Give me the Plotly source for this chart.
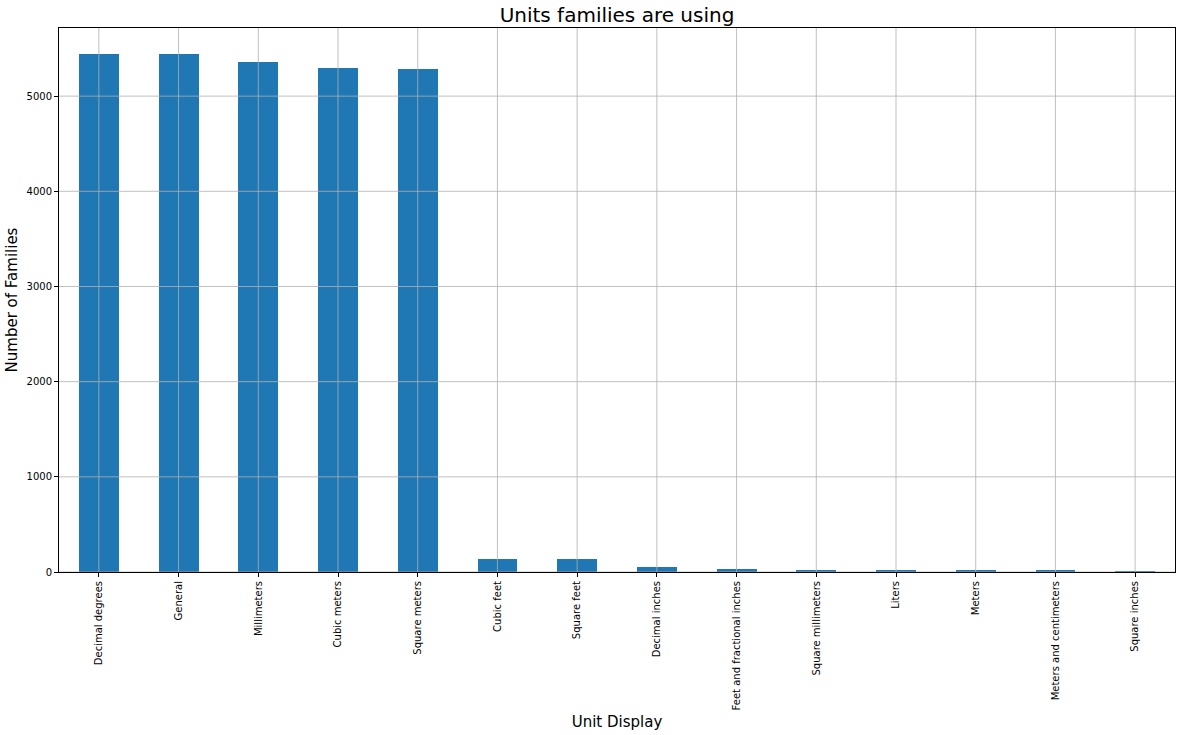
import plotly.graph_objects as go

units = ["Decimal degrees", "General", "Millimeters", "Cubic meters", "Square meters",
         "Cubic feet", "Square feet", "Decimal inches", "Feet and fractional inches",
         "Square millimeters", "Liters", "Meters", "Meters and centimeters", "Square inches"]
families = [5444, 5444, 5360, 5297, 5287, 140, 140, 56, 35, 24, 14, 12, 12, 2]
y_ticks = [0, 1000, 2000, 3000, 4000, 5000]

font = "DejaVu Sans"
grid_col = "#b0b0b0"

W, H = 1185, 735

fig = go.Figure()
fig.add_trace(go.Bar(x=list(range(len(units))), y=families, width=0.5,
                     marker=dict(color="#1f77b4", line=dict(width=0))))

# matplotlib draws grid over the bars, so use shapes on top
shapes = []
for i in range(len(units)):
    shapes.append(dict(type="line", xref="x", yref="paper", x0=i, x1=i, y0=0, y1=1,
                       line=dict(color=grid_col, width=0.8), layer="above"))
for t in y_ticks:
    shapes.append(dict(type="line", xref="paper", yref="y", x0=0, x1=1, y0=t, y1=t,
                       line=dict(color=grid_col, width=0.8), layer="above"))

fig.update_layout(
    width=W, height=H,
    margin=dict(l=59, r=10, t=28, b=163, autoexpand=False),
    paper_bgcolor="white", plot_bgcolor="white",
    font=dict(family=font, color="black", size=10),
    title=dict(text="Units families are using", x=0.5, xref="paper",
               y=1 - 15 / H, yref="container", yanchor="middle",
               font=dict(size=20, family=font)),
    showlegend=False,
    shapes=shapes,
    bargap=0,
)
fig.update_xaxes(
    range=[-0.5, len(units) - 0.5], tickmode="array",
    tickvals=list(range(len(units))), ticktext=units, tickangle=-90,
    showgrid=False, zeroline=False, automargin=False,
    showline=True, linecolor="black", linewidth=1, mirror=True,
    ticks="outside", ticklen=4, tickcolor="black",
    title=dict(text="Unit Display", font=dict(size=15, family=font), standoff=7),
)
fig.update_yaxes(
    range=[0, 5716], tickmode="array", tickvals=y_ticks,
    showgrid=False, zeroline=False, automargin=False,
    showline=True, linecolor="black", linewidth=1, mirror=True,
    ticks="outside", ticklen=4, tickcolor="black",
    title=dict(text="Number of Families", font=dict(size=15, family=font), standoff=5),
)

# drop the default page margin so the figure fills the window
fig.write_html("out.html", config={"displayModeBar": False},
               post_script="document.body.style.margin = '0';")
